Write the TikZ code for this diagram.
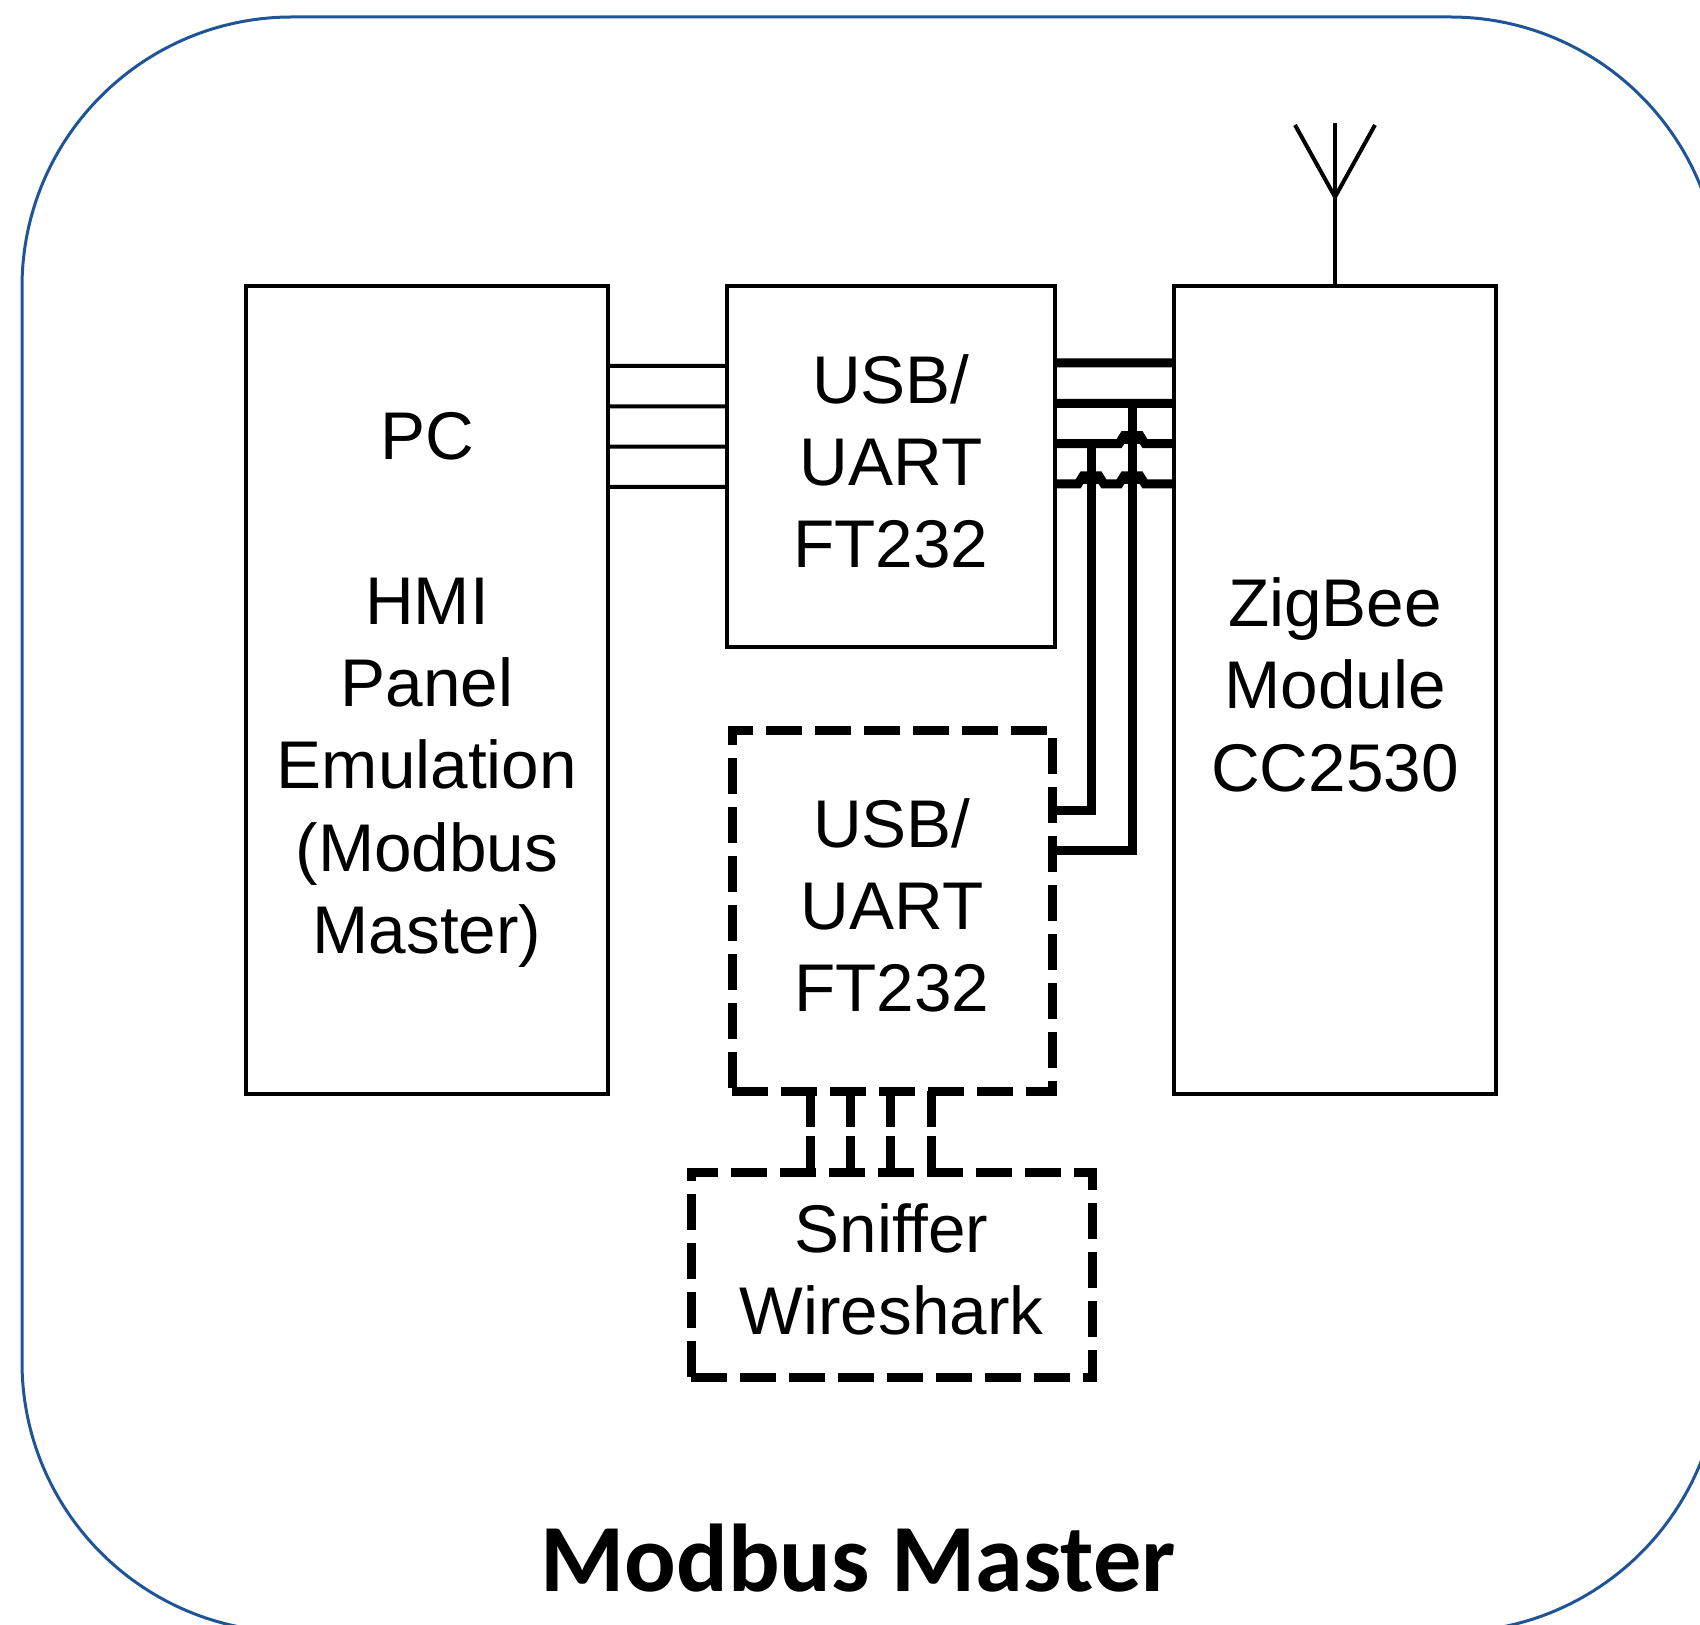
\documentclass[tikz,border=0pt]{standalone}
\usepackage{fontspec}
\setmainfont{Liberation Sans}
\newfontfamily\titlefont{Carlito}
\usetikzlibrary{calc,positioning}
\definecolor{framecol}{HTML}{1F5496}
\newcommand{\myunit}{0.4033cm}
\newcommand{\txtup}{\rule[-0.11cm]{0pt}{0.11cm}}
\tikzset{
    boxsty/.style={draw,line width=0.045cm,rectangle,outer sep=0pt,inner sep=0pt,align=center,font=\fontsize{19.2}{23.4}\selectfont},
    dashsty/.style={boxsty,line width=0.09cm,dash pattern=on 0.36cm off 0.13cm},
    thinsty/.style={line width=0.04cm},
    bussty/.style={line width=0.09cm},
    linksty/.style={line width=0.09cm,dash pattern=on 0.36cm off 0.09cm},
    antsty/.style={line width=0.04cm},
    titlesty/.style={font=\titlefont\bfseries\fontsize{27.4}{30}\selectfont},
}

\begin{document}
\begin{tikzpicture}
  \useasboundingbox (0,0) rectangle (17,16.24);
  \clip (0,0) rectangle (17,16.24);
  \draw[framecol,line width=0.03cm,rounded corners=2.7cm] (0.22,-0.08) rectangle (17.2,16.07);

  \node[boxsty,minimum width=3.62cm,minimum height=8.08cm] (pc) at (4.27,9.34) {PC\\ \\HMI\\Panel\\Emulation\\(Modbus\\Master)};
  \node[boxsty,minimum width=3.28cm,minimum height=3.61cm] (usba) at (8.91,11.575) {USB/\\UART\\FT232\txtup};
  \node[boxsty,minimum width=3.22cm,minimum height=8.08cm] (zig) at (13.35,9.34) {ZigBee\\Module\\CC2530\txtup};
  \node[dashsty,minimum width=3.20cm,minimum height=3.61cm] (usbb) at (8.92,7.135) {USB/\\UART\\FT232\txtup};
  \node[dashsty,minimum width=4.01cm,minimum height=2.05cm] (snif) at (8.915,3.495) {Sniffer\\Wireshark\txtup};
  \node[titlesty] (title) at (8.58,0.66) {Modbus Master};

  % antenna
  \coordinate (antfoot) at ([yshift=0.89cm]zig.north);
  \coordinate (anttop) at ([yshift=1.63cm]zig.north);
  \coordinate (antl) at ([xshift=-0.40cm,yshift=1.61cm]zig.north);
  \coordinate (antr) at ([xshift=0.40cm,yshift=1.61cm]zig.north);
  \draw[thinsty] (zig.north) -- (anttop);
  \draw[antsty] (antl) -- (antfoot) -- (antr);

  % PC to first converter
  \draw[thinsty] ([yshift=-0.80cm-0*\myunit]pc.north east) -- ([yshift=-0.80cm-0*\myunit]usba.north west);
  \draw[thinsty] ([yshift=-0.80cm-1*\myunit]pc.north east) -- ([yshift=-0.80cm-1*\myunit]usba.north west);
  \draw[thinsty] ([yshift=-0.80cm-2*\myunit]pc.north east) -- ([yshift=-0.80cm-2*\myunit]usba.north west);
  \draw[thinsty] ([yshift=-0.80cm-3*\myunit]pc.north east) -- ([yshift=-0.80cm-3*\myunit]usba.north west);

  % first converter to module
  \draw[bussty] ([yshift=-0.77cm-0*\myunit]usba.north east) -- ([yshift=-0.77cm-0*\myunit]zig.north west);
  \draw[bussty] ([yshift=-0.77cm-1*\myunit]usba.north east) -- ([yshift=-0.77cm-1*\myunit]zig.north west);
  \draw[bussty] ([yshift=-0.77cm-2*\myunit]usba.north east) -- ++(0.64,0) -- ++(0.05,0.08) -- ++(0.16,0) -- ++(0.05,-0.08) -- ([yshift=-0.77cm-2*\myunit]zig.north west);
  \draw[bussty] ([yshift=-0.77cm-3*\myunit]usba.north east) -- ++(0.23,0) -- ++(0.05,0.08) -- ++(0.16,0) -- ++(0.05,-0.08) -- ++(0.15,0) -- ++(0.05,0.08) -- ++(0.16,0) -- ++(0.05,-0.08) -- ([yshift=-0.77cm-3*\myunit]zig.north west);

  % solid humps over the crossings
  \coordinate (hopa) at ([xshift=0.77cm,yshift=-0.77cm-2*\myunit]usba.north east);
  \coordinate (hopb) at ([xshift=0.36cm,yshift=-0.77cm-3*\myunit]usba.north east);
  \coordinate (hopc) at ([xshift=0.77cm,yshift=-0.77cm-3*\myunit]usba.north east);
  \fill ([xshift=-0.09cm]hopa) rectangle ([xshift=0.09cm,yshift=0.08cm]hopa);
  \fill ([xshift=-0.09cm]hopb) rectangle ([xshift=0.09cm,yshift=0.08cm]hopb);
  \fill ([xshift=-0.09cm]hopc) rectangle ([xshift=0.09cm,yshift=0.08cm]hopc);

  % second converter taps
  \coordinate (tapb) at ([xshift=0.36cm,yshift=-0.77cm-2*\myunit]usba.north east);
  \coordinate (tapa) at ([xshift=0.77cm,yshift=-0.77cm-1*\myunit]usba.north east);
  \draw[bussty] ([yshift=-0.80cm]usbb.north east) -| (tapb);
  \draw[bussty] ([yshift=-1.20cm]usbb.north east) -| (tapa);

  % second converter to sniffer
  \draw[linksty] ([xshift=0.78cm+0*\myunit]usbb.south west) -- ([xshift=0.78cm+0*\myunit]usbb.south west |- snif.north);
  \draw[linksty] ([xshift=0.78cm+1*\myunit]usbb.south west) -- ([xshift=0.78cm+1*\myunit]usbb.south west |- snif.north);
  \draw[linksty] ([xshift=0.78cm+2*\myunit]usbb.south west) -- ([xshift=0.78cm+2*\myunit]usbb.south west |- snif.north);
  \draw[linksty] ([xshift=0.78cm+3*\myunit]usbb.south west) -- ([xshift=0.78cm+3*\myunit]usbb.south west |- snif.north);
\end{tikzpicture}
\end{document}
